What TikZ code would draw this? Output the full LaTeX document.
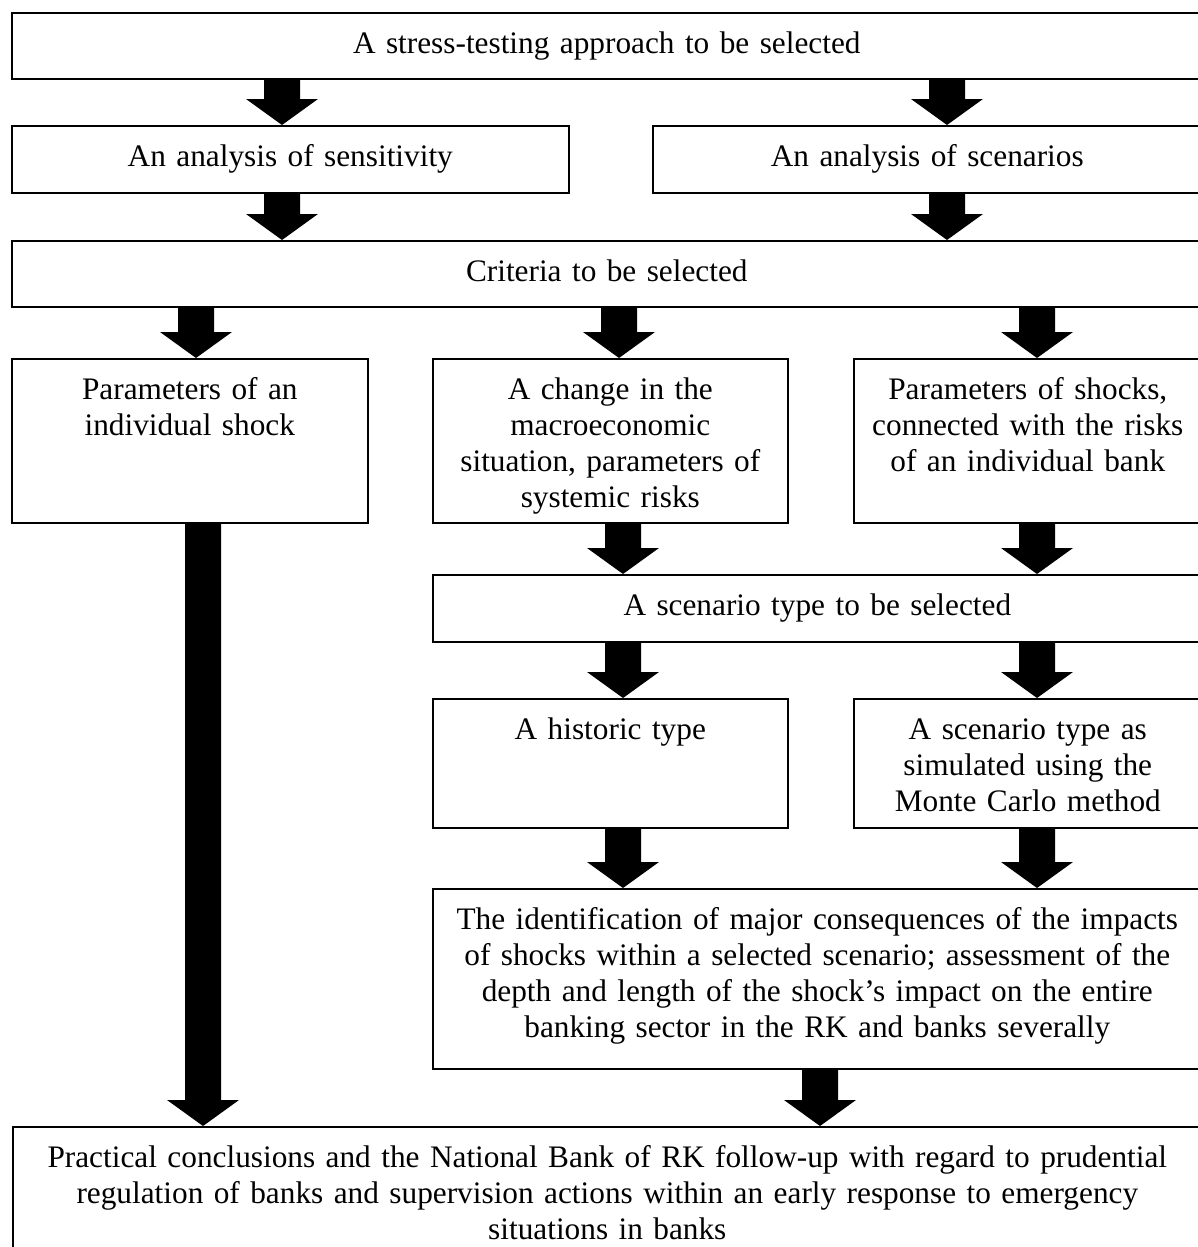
\documentclass[tikz,border=0pt]{standalone}
\usepackage{fontspec}
\setmainfont{Liberation Serif}
\usetikzlibrary{calc}

% broad block arrow: x-position, from node, to node
\newcommand{\fatarrow}[3]{%
  \fill let \p1=(#2.south), \p2=(#3.north) in
    ({#1pt-18pt},\y1) -- ({#1pt+18pt},\y1) -- ({#1pt+18pt},{\y2+26pt}) -- ({#1pt+36pt},{\y2+26pt})
    -- ({#1pt},\y2) -- ({#1pt-36pt},{\y2+26pt}) -- ({#1pt-18pt},{\y2+26pt}) -- cycle;}

\begin{document}
\begin{tikzpicture}[x=1pt, y=1pt,
  box/.style={draw, line width=1.6pt, inner sep=0pt, anchor=north west, align=center,
    text height=41pt, font=\fontsize{31.3}{36}\selectfont}]
  \fill[white] (0,0) rectangle (1197,-1247);
  \useasboundingbox (0,0) rectangle (1197,-1247);

  % Approach
  \node[box, text width=1190pt, text depth=25pt] (approach) at (11,-12) {A stress-testing approach to be selected};
  \node[box, text width=557pt, text depth=26pt] (sens) at (11,-125) {An analysis of sensitivity};
  \node[box, text width=549pt, text depth=26pt] (scen) at (652,-125) {An analysis of scenarios};

  % Criteria
  \node[box, text width=1190pt, text depth=25pt] (crit) at (11,-240) {Criteria to be selected};
  \node[box, text width=356pt, text depth=123pt] (indiv) at (11,-358) {Parameters of an\\individual shock};
  \node[box, text width=355pt, text depth=123pt] (macro) at (432,-358) {A change in the\\macroeconomic\\situation, parameters of\\systemic risks};
  \node[box, text width=348pt, text depth=123pt] (bankrisk) at (853,-358) {Parameters of shocks,\\connected with the risks\\of an individual bank};

  % Scenario type
  \node[box, text width=769pt, text depth=26pt] (sctype) at (432,-574) {A scenario type to be selected};
  \node[box, text width=355pt, text depth=88pt] (hist) at (432,-698) {A historic type};
  \node[box, text width=348pt, text depth=88pt] (monte) at (853,-698) {A scenario type as\\simulated using the\\Monte Carlo method};

  % Consequences and conclusions
  \node[box, text width=769pt, text depth=139pt] (ident) at (432,-888) {The identification of major consequences of the impacts\\of shocks within a selected scenario; assessment of the\\depth and length of the shock’s impact on the entire\\banking sector in the RK and banks severally};
  \node[box, text width=1189pt, text depth=100pt] (concl) at (12,-1126) {Practical conclusions and the National Bank of RK follow-up with regard to prudential\\regulation of banks and supervision actions within an early response to emergency\\situations in banks};

  % Arrows
  \fatarrow{282}{approach}{sens}
  \fatarrow{947}{approach}{scen}
  \fatarrow{282}{sens}{crit}
  \fatarrow{947}{scen}{crit}
  \fatarrow{196}{crit}{indiv}
  \fatarrow{619}{crit}{macro}
  \fatarrow{1037}{crit}{bankrisk}
  \fatarrow{623}{macro}{sctype}
  \fatarrow{1037}{bankrisk}{sctype}
  \fatarrow{623}{sctype}{hist}
  \fatarrow{1037}{sctype}{monte}
  \fatarrow{623}{hist}{ident}
  \fatarrow{1037}{monte}{ident}
  \fatarrow{203}{indiv}{concl}
  \fatarrow{820}{ident}{concl}
\end{tikzpicture}
\end{document}
